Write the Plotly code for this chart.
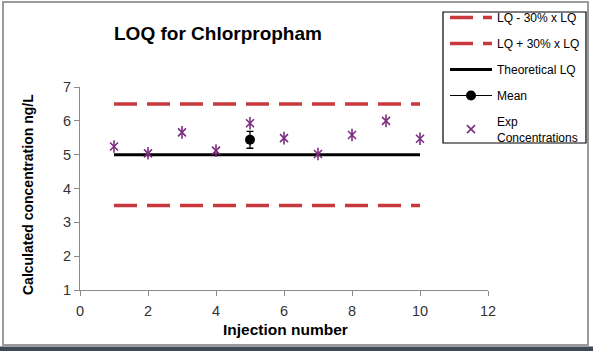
import plotly.graph_objects as go

# ---- data ----
injection = [1, 2, 3, 4, 5, 6, 7, 8, 9, 10]
exp_conc = [5.24, 5.04, 5.66, 5.12, 5.93, 5.49, 5.02, 5.58, 6.00, 5.47]
lq = 5.0
lq_low = 3.5    # LQ - 30% x LQ
lq_high = 6.5   # LQ + 30% x LQ
mean_x = [5]
mean_y = [5.44]
mean_err = [0.25]

x_ticks = [0, 2, 4, 6, 8, 10, 12]
y_ticks = [1, 2, 3, 4, 5, 6, 7]

RED = "#C8383C"
PURPLE = "#7B2D80"
FONT = "Liberation Sans, Arial, sans-serif"

# plot area geometry in px (for paper-coordinate conversion of decorations)
W, H = 593, 351
L, R, T, B = 80, 105, 87, 61
pw, ph = W - L - R, H - T - B


def px(x):
    return (x - L) / pw


def py(y):
    return (H - B - y) / ph


fig = go.Figure()

fig.add_trace(go.Scatter(
    x=[injection[0], injection[-1]], y=[lq_low, lq_low], mode="lines",
    name="LQ - 30% x LQ", legendgroup="a",
    line=dict(color=RED, width=3.5, dash="23px,10px")))
fig.add_trace(go.Scatter(
    x=[injection[0], injection[-1]], y=[lq_high, lq_high], mode="lines",
    name="LQ + 30% x LQ", legendgroup="b",
    line=dict(color=RED, width=3.5, dash="23px,10px")))
fig.add_trace(go.Scatter(
    x=[injection[0], injection[-1]], y=[lq, lq], mode="lines",
    name="Theoretical LQ", legendgroup="c",
    line=dict(color="black", width=3)))
fig.add_trace(go.Scatter(
    x=mean_x, y=mean_y, mode="lines+markers", name="Mean", legendgroup="d",
    line=dict(color="black", width=1.2),
    marker=dict(color="black", size=10, symbol="circle"),
    error_y=dict(type="data", array=mean_err, visible=True,
                 color="black", thickness=1.3, width=3.5)))
fig.add_trace(go.Scatter(
    x=injection, y=exp_conc, mode="markers", name="Exp<br>Concentrations",
    legendgroup="e",
    marker=dict(symbol="x-thin-open", size=8,
                line=dict(color=PURPLE, width=1.6), color=PURPLE)))
fig.add_trace(go.Scatter(
    x=injection, y=exp_conc, mode="markers", showlegend=False,
    legendgroup="e",
    marker=dict(symbol="line-ns-open", size=9,
                line=dict(color=PURPLE, width=1.6), color=PURPLE)))

axis_common = dict(
    showgrid=False, zeroline=False, showline=True, linecolor="#8a8a8a",
    linewidth=1, ticks="outside", ticklen=5, tickcolor="#8a8a8a",
    tickfont=dict(family=FONT, size=14.5, color="#333333"))

fig.update_xaxes(range=[0, 12], tickvals=x_ticks, ticklabelstandoff=3,
                 **axis_common)
fig.update_yaxes(range=[1, 7], tickvals=y_ticks, **axis_common)

annotations = [
    dict(text="<b>LOQ for Chlorpropham</b>", xref="paper", yref="paper",
         x=px(112), y=py(33), xanchor="left", yanchor="middle",
         showarrow=False, font=dict(family=FONT, size=19, color="black")),
    dict(text="<b>Calculated concentration ng/L</b>", xref="paper", yref="paper",
         x=px(28), y=py(195), xanchor="center", yanchor="middle", textangle=-90,
         showarrow=False, font=dict(family=FONT, size=14, color="black")),
    dict(text="<b>Injection number</b>", xref="paper", yref="paper",
         x=px(285), y=py(329), xanchor="center", yanchor="middle",
         showarrow=False, font=dict(family=FONT, size=15.5, color="black")),
]

shapes = [
    dict(type="rect", xref="paper", yref="paper", x0=px(3), x1=px(588),
         y0=py(345), y1=py(2), line=dict(color="#9a9a9a", width=2),
         fillcolor="rgba(0,0,0,0)", layer="below"),
    dict(type="rect", xref="paper", yref="paper", x0=px(0), x1=px(593),
         y0=py(351), y1=py(346.5), line=dict(width=0),
         fillcolor="#3f4856", layer="below"),
    # legend frame
    dict(type="rect", xref="paper", yref="paper", x0=px(443), x1=px(586),
         y0=py(143), y1=py(12), line=dict(color="black", width=1.2),
         fillcolor="white", layer="below"),
]

fig.update_layout(
    width=W, height=H,
    margin=dict(l=L, r=R, t=T, b=B, autoexpand=False),
    paper_bgcolor="white", plot_bgcolor="white",
    showlegend=True,
    legend=dict(x=px(445), y=py(3), xanchor="left", yanchor="top",
                borderwidth=0, bgcolor="rgba(0,0,0,0)",
                itemwidth=42, tracegroupgap=7,
                font=dict(family=FONT, size=12, color="black")),
    annotations=annotations, shapes=shapes,
)

fig.write_html("out.html")
